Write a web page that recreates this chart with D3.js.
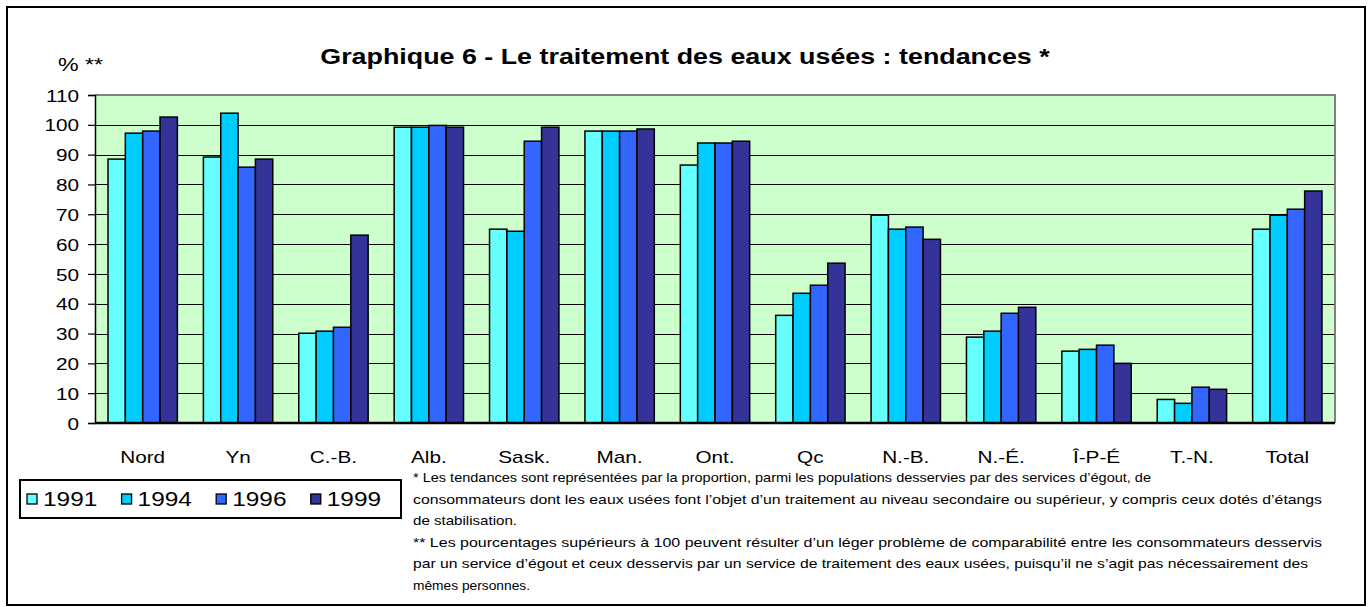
<!DOCTYPE html>
<html>
<head>
<meta charset="utf-8">
<script src="https://cdn.jsdelivr.net/npm/d3@7"></script>
<style>
  html, body { margin: 0; padding: 0; background: #ffffff; }
  svg { display: block; font-family: "Liberation Sans", Arial, sans-serif; }
</style>
</head>
<body>
<svg id="chart" width="1369" height="607"></svg>
<script>
// ---- Data ----
const categories = ["Nord", "Yn", "C.-B.", "Alb.", "Sask.", "Man.", "Ont.", "Qc", "N.-B.", "N.-É.", "Î-P-É", "T.-N.", "Total"];
const years = ["1991", "1994", "1996", "1999"];
const values1991 = [88.5, 89.2, 30.1, 99.2, 65.0, 97.9, 86.5, 36.1, 69.7, 28.8, 24.1, 7.9, 65.0];
const values1994 = [97.2, 103.9, 30.8, 99.2, 64.3, 97.9, 93.9, 43.5, 65.0, 30.8, 24.7, 6.6, 69.7];
const values1996 = [97.9, 85.8, 32.1, 99.8, 94.5, 97.9, 93.9, 46.2, 65.7, 36.8, 26.1, 12.0, 71.7];
const values1999 = [102.6, 88.5, 63.0, 99.2, 99.2, 98.6, 94.5, 53.6, 61.6, 38.8, 20.0, 11.3, 77.8];
const yTicks = [0, 10, 20, 30, 40, 50, 60, 70, 80, 90, 100, 110];
const titleText = "Graphique 6 - Le traitement des eaux usées : tendances *";
const yLabelText = "% **";
const footnoteLines = [
  "* Les tendances sont représentées par la proportion, parmi les populations desservies par des services d’égout, de",
  "consommateurs dont les eaux usées font l’objet d’un traitement au niveau secondaire ou supérieur, y compris ceux dotés d’étangs",
  "de stabilisation.",
  "** Les pourcentages supérieurs à 100 peuvent résulter d’un léger problème de comparabilité entre les consommateurs desservis",
  "par un service d’égout et ceux desservis par un service de traitement des eaux usées, puisqu’il ne s’agit pas nécessairement des",
  "mêmes personnes."
];

const seriesValues = [values1991, values1994, values1996, values1999];
const colors = ["#66FFFF", "#00CCFF", "#3366FF", "#333399"];

// ---- Layout ----
const K = 1.22; // horizontal text stretch of the original picture
const svg = d3.select("#chart");
const plot = { left: 95, right: 1335, top: 95, bottom: 423 };

function stretch(sel) {
  sel.each(function () {
    const w = this.getComputedTextLength();
    d3.select(this).attr("textLength", w * K).attr("lengthAdjust", "spacingAndGlyphs");
  });
  return sel;
}

// outer frame
svg.append("rect")
  .attr("x", 7).attr("y", 7).attr("width", 1358).attr("height", 598)
  .attr("fill", "#ffffff").attr("stroke", "#000").attr("stroke-width", 2);

// scales
const x0 = d3.scaleBand().domain(categories).range([plot.left, plot.right]).padding(0);
const groupW = x0.bandwidth() * 4 / 5.5;
const x1 = d3.scaleBand().domain(years).range([0, groupW]).padding(0);
const y = d3.scaleLinear().domain([0, 110]).range([plot.bottom, plot.top]);

// plot background
svg.append("rect")
  .attr("x", plot.left).attr("y", plot.top)
  .attr("width", plot.right - plot.left).attr("height", plot.bottom - plot.top)
  .attr("fill", "#CCFFCC");

// gridlines
svg.append("g")
  .selectAll("line")
  .data(yTicks.filter(t => t > 0 && t < 110))
  .join("line")
  .attr("x1", plot.left).attr("x2", plot.right)
  .attr("y1", d => Math.round(y(d)) + 0.5).attr("y2", d => Math.round(y(d)) + 0.5)
  .attr("stroke", "#000").attr("stroke-width", 1);

// top & right plot border (grey)
svg.append("path")
  .attr("d", `M${plot.left},${y(110)}H${plot.right}V${plot.bottom}`)
  .attr("fill", "none").attr("stroke", "#808080").attr("stroke-width", 2);

// bars
const groups = svg.append("g").selectAll("g")
  .data(categories)
  .join("g")
  .attr("transform", c => `translate(${x0(c) + (x0.bandwidth() - groupW) / 2},0)`);

groups.selectAll("rect")
  .data((c, i) => years.map((yr, s) => ({ yr, s, v: seriesValues[s][i] })))
  .join("rect")
  .attr("x", d => x1(d.yr))
  .attr("y", d => y(d.v))
  .attr("width", x1.bandwidth())
  .attr("height", d => y(0) - y(d.v))
  .attr("fill", d => colors[d.s])
  .attr("stroke", "#000").attr("stroke-width", 1.5);

// y axis
const yAxis = d3.axisLeft(y).tickValues(yTicks).tickSize(7).tickPadding(9).tickFormat(d3.format("d"));
const gy = svg.append("g").attr("transform", `translate(${plot.left},0)`).call(yAxis);
gy.select(".domain").attr("stroke", "#000").attr("stroke-width", 1.5);
gy.selectAll(".tick line").attr("stroke", "#000").attr("stroke-width", 1.2);
gy.selectAll(".tick text")
  .attr("font-size", 17).attr("fill", "#000")
  .attr("font-family", "Liberation Sans, Arial, sans-serif")
  .attr("dy", "0.36em");
stretch(gy.selectAll(".tick text"));

// x axis line (bottom)
svg.append("line")
  .attr("x1", plot.left).attr("x2", plot.right)
  .attr("y1", y(0)).attr("y2", y(0))
  .attr("stroke", "#000").attr("stroke-width", 2.5);

// category labels
const catLabels = svg.append("g").selectAll("text")
  .data(categories)
  .join("text")
  .attr("x", c => x0(c) + x0.bandwidth() / 2)
  .attr("y", 463)
  .attr("text-anchor", "middle")
  .attr("font-size", 17)
  .text(c => c);
stretch(catLabels);

// title
stretch(svg.append("text")
  .attr("x", 685).attr("y", 64)
  .attr("text-anchor", "middle")
  .attr("font-size", 22).attr("font-weight", "bold")
  .text(titleText));

// y label
stretch(svg.append("text")
  .attr("x", 58).attr("y", 71)
  .attr("font-size", 19)
  .text(yLabelText));

// legend
const legBox = { x: 20, y: 480, w: 381, h: 38 };
const legend = svg.append("g");
legend.append("rect")
  .attr("x", legBox.x).attr("y", legBox.y).attr("width", legBox.w).attr("height", legBox.h)
  .attr("fill", "#fff").attr("stroke", "#000").attr("stroke-width", 2);
const legItems = legend.selectAll("g.item")
  .data(years)
  .join("g").attr("class", "item");
legItems.append("rect")
  .attr("y", legBox.y + legBox.h / 2 - 5).attr("width", 10).attr("height", 10)
  .attr("fill", (d, i) => colors[i]).attr("stroke", "#000").attr("stroke-width", 1.3);
const legTexts = legItems.append("text")
  .attr("y", legBox.y + legBox.h / 2 + 7)
  .attr("font-size", 20)
  .text(d => d);
stretch(legTexts);
// distribute items across the box
const itemW = legTexts.nodes().map(n => 16 + n.getComputedTextLength() * K);
const contentL = legBox.x + 7, contentR = legBox.x + legBox.w - 8;
const gap = (contentR - contentL - d3.sum(itemW)) / (years.length - 1);
let cx = contentL;
legItems.each(function (d, i) {
  const g = d3.select(this);
  g.select("rect").attr("x", cx);
  g.select("text").attr("x", cx + 16);
  cx += itemW[i] + gap;
});

// footnotes
const footWidths = [738, 909, 104, 909, 895, 117];
svg.append("g").selectAll("text")
  .data(footnoteLines)
  .join("text")
  .attr("x", 413)
  .attr("y", (d, i) => 482 + i * 21.5)
  .attr("font-size", 13)
  .attr("textLength", (d, i) => footWidths[i])
  .attr("lengthAdjust", "spacingAndGlyphs")
  .text(d => d);
</script>
</body>
</html>
